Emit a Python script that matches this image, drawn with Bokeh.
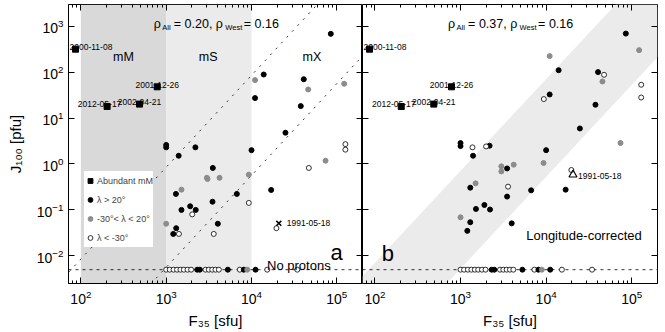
from bokeh.plotting import figure
from bokeh.layouts import row
from bokeh.models import (LogAxis, FixedTicker, Span, BoxAnnotation, Label,
                          Legend, LegendItem, Range1d)
from bokeh.embed import file_html
from bokeh.resources import INLINE

FONT = "Liberation Sans"

# ---------------- data ----------------
# Abundant mM events (same in both panels)
sq_x = [86.5, 203, 487, 784]
sq_y = [316, 17.9, 20.1, 47.9]
sq_labels = ["2000-11-08", "2012-05-17", "2002-04-21", "2001-12-26"]

# Panel a : F35 vs J100
a_west_x = [85000, 13900, 41000, 11000, 37800, 25000, 1000, 1000, 1400, 2200, 10000,
            3520, 1300, 6730, 17000, 3490, 1910, 1510, 2220, 4030, 1310, 1210]
a_west_y = [680, 88.7, 70, 27.2, 18.2, 4.8, 2.6, 2.3, 1.51, 2.3, 2.0,
            0.82, 0.223, 0.223, 0.272, 0.151, 0.12, 0.10, 0.10, 0.050, 0.040, 0.030]
a_mid_x = [11000, 46200, 122000, 73800, 3000, 3050, 4220, 9300, 1510, 1000]
a_mid_y = [67, 41.9, 55.7, 1.18, 0.50, 0.47, 0.50, 0.585, 0.276, 0.050]
a_east_x = [47000, 126000, 126000, 9300, 2020, 1410, 3610, 19600]
a_east_y = [0.82, 2.7, 2.05, 0.142, 0.080, 0.030, 0.030, 0.040]

# Panel b : longitude-corrected
b_west_x = [85300, 14000, 40400, 11000, 37700, 24800, 1000, 1000, 2185, 1400, 10000,
            3500, 3500, 6680, 16900, 1300, 1900, 1514, 2210, 1300, 3960, 1200]
b_west_y = [690, 110, 100, 32.6, 19.5, 5.94, 2.85, 2.45, 2.5, 1.51, 2.0,
            0.80, 0.195, 0.267, 0.276, 0.305, 0.128, 0.105, 0.102, 0.054, 0.051, 0.035]
b_mid_x = [122000, 11000, 45500, 73900, 3000, 3000, 4180, 9330, 1500, 1000]
b_mid_y = [301, 223, 62.5, 2.86, 0.887, 0.69, 0.966, 1.05, 0.379, 0.069]
b_east_x = [47500, 129000, 129000, 9400, 1380, 1990, 19700, 3590]
b_east_y = [87.4, 53, 28, 25.9, 2.3, 2.41, 0.74, 0.321]

# events without protons (plotted at J = 0.005)
NO_PROTON_J = 0.005
np_east_x = [1000, 1100, 1220, 1340, 1470, 1610, 1780, 1960,
             2890, 3160, 3460, 3780, 4140, 7290, 15280, 34400]
np_west_x = [2310, 2480, 5280, 8130, 11150]
np_mid_x = [8910]

# 1991-05-18 event
ev_label = "1991-05-18"
ev_a = (20900, 0.051)
ev_b = (20600, 0.585)

# correlation coefficients
rho_a = ("0.20", "0.16")
rho_b = ("0.37", "0.16")

# J = k * F^2 reference lines
k_a = (10 ** -6.07, 10 ** -8.25)
k_b = (10 ** -6.15, 10 ** -8.28)

# mM / mS / mX class borders (sfu)
class_edges = [100, 1000, 10000]

# ---------------- styling ----------------
X_RANGE = (71.6, 2.0e5)
Y_RANGE = (10 ** -2.602, 10 ** 3.472)
X_MAJOR = [1e2, 1e3, 1e4, 1e5]
X_MINOR = [m * 10 ** e for e in range(1, 6) for m in range(2, 10)]
Y_MAJOR = [1e-2, 1e-1, 1, 10, 100, 1000]
BLACK = "black"
GRAY = "#8c8c8c"
SHADE_DARK = "#d9d9d9"
SHADE_LIGHT = "#ebebeb"
FIT_X = [30, 5e5]


def style_axis(ax, is_x, labels):
    ax.ticker = FixedTicker(ticks=X_MAJOR if is_x else Y_MAJOR,
                            minor_ticks=X_MINOR if is_x else [])
    ax.major_tick_in = 6
    ax.major_tick_out = 0
    ax.minor_tick_in = 3 if is_x else 0
    ax.minor_tick_out = 0
    ax.axis_line_color = BLACK
    ax.major_tick_line_color = BLACK
    ax.minor_tick_line_color = BLACK if is_x else None
    ax.major_label_text_font = FONT
    ax.major_label_text_font_size = "14px"
    ax.major_label_text_color = BLACK if labels else None
    ax.axis_label_text_font = FONT
    ax.axis_label_text_font_size = "15px"
    ax.axis_label_text_font_style = "normal"
    ax.axis_label_text_color = BLACK


def make_fig(width, left_border, right_border, with_left_labels):
    p = figure(width=width, height=332, x_axis_type="log", y_axis_type="log",
               x_range=Range1d(*X_RANGE), y_range=Range1d(*Y_RANGE),
               output_backend="svg", toolbar_location=None,
               y_axis_location="left" if with_left_labels else None,
               min_border_left=left_border, min_border_right=right_border,
               min_border_top=4, min_border_bottom=49)
    p.grid.visible = False
    p.outline_line_color = BLACK
    p.background_fill_color = "white"
    p.border_fill_color = "white"
    bx = p.below[0]
    style_axis(bx, True, True)
    bx.axis_label = "F₃₅ [sfu]"
    bx.major_label_standoff = 6
    bx.axis_label_standoff = 5
    if with_left_labels:
        ly = p.left[0]
        style_axis(ly, False, True)
        ly.axis_label = "J₁₀₀ [pfu]"
        ly.major_label_standoff = 5
        ly.axis_label_standoff = 10
    else:
        ly = LogAxis(fixed_location=X_RANGE[0])
        style_axis(ly, False, False)
        p.add_layout(ly, "left")
    ry = LogAxis(fixed_location=X_RANGE[1])
    style_axis(ry, False, False)
    p.add_layout(ry, "right")
    tx = LogAxis(fixed_location=Y_RANGE[1])
    style_axis(tx, True, False)
    p.add_layout(tx, "above")
    return p


def add_text(p, x, y, text, size, dx=0, dy=0, align="left", baseline="alphabetic"):
    p.add_layout(Label(x=x, y=y, text=text, x_offset=dx, y_offset=dy,
                       text_font=FONT, text_font_size=size, text_align=align,
                       text_baseline=baseline, text_color=BLACK))


def add_rho(p, vals):
    x0, y0 = 716, 1105
    add_text(p, x0, y0, "ρ", "12.5px", 0, 0)
    add_text(p, x0, y0, "All", "7.5px", 8.4, -3)
    add_text(p, x0, y0, "= %s, ρ" % vals[0], "12.5px", 20, 0)
    add_text(p, x0, y0, "West", "7.5px", 71.5, -3)
    add_text(p, x0, y0, "= %s" % vals[1], "12.5px", 90, 0)


def add_points(p, wx, wy, mx, my, ex, ey):
    no_j_e = [NO_PROTON_J] * len(np_east_x)
    no_j_w = [NO_PROTON_J] * len(np_west_x)
    no_j_m = [NO_PROTON_J] * len(np_mid_x)
    p.scatter(np_east_x, no_j_e, marker="circle", size=5, fill_color="white",
              line_color=BLACK, line_width=0.8)
    p.scatter(np_west_x, no_j_w, marker="circle", size=5, fill_color=BLACK, line_color=BLACK)
    p.scatter(np_mid_x, no_j_m, marker="circle", size=5, fill_color=GRAY, line_color=GRAY)
    r_sq = p.scatter(sq_x, sq_y, marker="square", size=6, fill_color=BLACK, line_color=BLACK)
    r_w = p.scatter(wx, wy, marker="circle", size=5, fill_color=BLACK, line_color=BLACK)
    r_m = p.scatter(mx, my, marker="circle", size=5, fill_color=GRAY, line_color=GRAY)
    r_e = p.scatter(ex, ey, marker="circle", size=5, fill_color="white",
                    line_color=BLACK, line_width=0.8)
    for i, (x, y, t) in enumerate(zip(sq_x, sq_y, sq_labels)):
        if i == 0:
            # keep the label inside the plot frame (it would be clipped otherwise)
            add_text(p, x, y, t, "8.5px", -6, 2, align="left")
            continue
        dx = -7.5 if t == "2012-05-17" else 0
        add_text(p, x, y, t, "8.5px", dx, 2, align="center")
    return r_sq, r_w, r_m, r_e


def add_noproton_line(p):
    p.add_layout(Span(location=NO_PROTON_J, dimension="width", line_color=BLACK,
                      line_width=0.8, line_dash="3 4", level="underlay"))


# ---------------- panel a ----------------
pa = make_fig(362, 68, 0, True)
pa.add_layout(BoxAnnotation(left=class_edges[0], right=class_edges[1], fill_color=SHADE_DARK,
                            fill_alpha=1, line_color=None, level="underlay"))
pa.add_layout(BoxAnnotation(left=class_edges[1], right=class_edges[2], fill_color=SHADE_LIGHT,
                            fill_alpha=1, line_color=None, level="underlay"))
add_noproton_line(pa)
for k in k_a:
    pa.line(FIT_X, [k * x * x for x in FIT_X], line_color="#333333", line_width=1,
            line_dash="2 6")
r_sq, r_w, r_m, r_e = add_points(pa, a_west_x, a_west_y, a_mid_x, a_mid_y,
                                 a_east_x, a_east_y)
pa.scatter([ev_a[0]], [ev_a[1]], marker="x", size=7, line_color=BLACK, line_width=1.5)
add_text(pa, ev_a[0], ev_a[1], ev_label, "8.5px", 8, 0, baseline="middle")
add_rho(pa, rho_a)
add_text(pa, 316, 215, "mM", "12.5px", align="center", baseline="middle")
add_text(pa, 3100, 215, "mS", "12.5px", align="center", baseline="middle")
add_text(pa, 51000, 215, "mX", "12.5px", align="center", baseline="middle")
add_text(pa, 84400, 0.01197, "a", "22px")
add_text(pa, 35900, 0.00615, "No protons", "13px", align="center")

legend = Legend(items=[LegendItem(label="Abundant mM", renderers=[r_sq]),
                       LegendItem(label="λ > 20°", renderers=[r_w]),
                       LegendItem(label="-30°< λ < 20°", renderers=[r_m]),
                       LegendItem(label="λ < -30°", renderers=[r_e])],
                location=(16, 36), orientation="vertical",
                background_fill_color="white", background_fill_alpha=1,
                border_line_color=None, padding=3, margin=0, spacing=0,
                label_height=19, glyph_height=19, glyph_width=12, label_standoff=1,
                label_text_font=FONT, label_text_font_size="9px",
                label_text_baseline="middle")
pa.add_layout(legend)

# ---------------- panel b ----------------
pb = make_fig(303, 0, 8, False)
add_noproton_line(pb)
band = pb.varea(x=FIT_X, y1=[k_b[1] * x * x for x in FIT_X],
                y2=[k_b[0] * x * x for x in FIT_X], fill_color=SHADE_LIGHT, fill_alpha=1)
band.level = "underlay"
add_points(pb, b_west_x, b_west_y, b_mid_x, b_mid_y, b_east_x, b_east_y)
pb.scatter([ev_b[0]], [ev_b[1]], marker="triangle", size=8, fill_color=None,
           line_color=BLACK, line_width=1.2)
add_text(pb, ev_b[0], ev_b[1], ev_label, "8.5px", 5, -1.5, baseline="middle")
add_rho(pb, rho_b)
add_text(pb, 120, 0.0114, "b", "22px")
add_text(pb, 27700, 0.0276, "Longitude-corrected", "13px", align="center")

layout = row(pa, pb, spacing=0)
open("out.html", "w").write(file_html(layout, INLINE))
